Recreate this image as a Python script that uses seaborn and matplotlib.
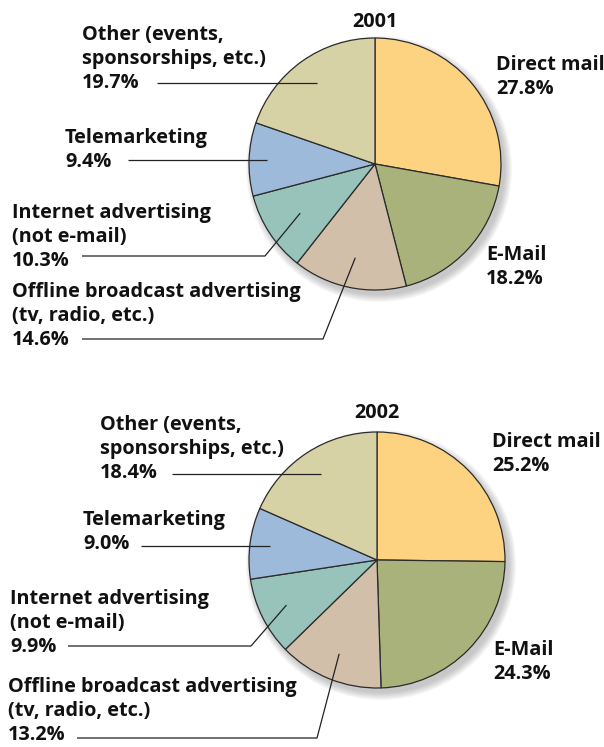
import numpy as np
import matplotlib.pyplot as plt
import seaborn as sns
from matplotlib.patches import Circle

# %%
categories = ['Direct mail', 'E-Mail', 'Offline broadcast advertising',
              'Internet advertising', 'Telemarketing', 'Other']
label_lines = {
    'Direct mail': ['Direct mail'],
    'E-Mail': ['E-Mail'],
    'Offline broadcast advertising': ['Offline broadcast advertising', '(tv, radio, etc.)'],
    'Internet advertising': ['Internet advertising', '(not e-mail)'],
    'Telemarketing': ['Telemarketing'],
    'Other': ['Other (events,', 'sponsorships, etc.)'],
}
years = ['2001', '2002']
share_2001 = [27.8, 18.2, 14.6, 10.3, 9.4, 19.7]
share_2002 = [25.2, 24.3, 13.2, 9.9, 9.0, 18.4]
colors = ['#FDD381', '#A9B27A', '#D1BFAA', '#97C3BA', '#9DBADB', '#D7D2A6']

# %%
sns.set_theme(style='white')
plt.rcParams['font.family'] = ['Open Sans', 'DejaVu Sans']
palette = sns.color_palette(colors)

W, H = 604, 747
fig = plt.figure(figsize=(W / 100, H / 100), dpi=100)
ax = fig.add_axes([0, 0, 1, 1])

# layout per pie (pixel coordinates, y down)
layouts = [
    dict(center=(375, 164), radius=126, title_y=22,
         text={'Direct mail': (496, 65), 'E-Mail': (486, 255),
               'Offline broadcast advertising': (12, 292),
               'Internet advertising': (12, 213),
               'Telemarketing': (65, 138), 'Other': (82, 35)},
         leader={'Offline broadcast advertising': (82, 339, 323, 0.76),
                 'Internet advertising': (82, 256, 265, 0.71),
                 'Telemarketing': (128, None, None, 0.86),
                 'Other': (157, None, None, 0.79)}),
    dict(center=(377, 560), radius=128, title_y=413,
         text={'Direct mail': (492, 442), 'E-Mail': (493, 650),
               'Offline broadcast advertising': (8, 687),
               'Internet advertising': (10, 599),
               'Telemarketing': (83, 520), 'Other': (100, 425)},
         leader={'Offline broadcast advertising': (77, 738, 317, 0.79),
                 'Internet advertising': (68, 646, 251, 0.79),
                 'Telemarketing': (141, None, None, 0.84),
                 'Other': (172, None, None, 0.80)}),
]

fs = 14.3
step = 24
for year, shares, lay in zip(years, [share_2001, share_2002], layouts):
    cx, cy = lay['center']
    r = lay['radius']
    # soft drop shadow
    for k in range(8):
        ax.add_patch(Circle((cx + 4, cy + 5), r + 7 - k, color='#6a6a6a',
                            alpha=0.05, lw=0, zorder=1))
    # y axis is inverted, so counterclockwise from -90 is clockwise from the top
    wedges, _ = ax.pie(shares, colors=palette, startangle=-90, counterclock=True,
                       center=(cx, cy), radius=r,
                       wedgeprops=dict(edgecolor='#2b2b2b', linewidth=0.9))
    for w in wedges:
        w.set_zorder(2)
    ax.text(cx, lay['title_y'], year, ha='center', va='center',
            fontsize=fs, fontweight='bold', color='#111111')

    for cat, val, w in zip(categories, shares, wedges):
        tx, ty = lay['text'][cat]
        lines = label_lines[cat] + [f'{val:.1f}%']
        for i, ln in enumerate(lines):
            ax.text(tx, ty + i * step, ln, ha='left', va='center',
                    fontsize=fs, fontweight='bold', color='#111111', zorder=5)
        if cat in lay['leader']:
            x0, ly, ex, frac = lay['leader'][cat]
            mid = np.deg2rad((w.theta1 + w.theta2) / 2)
            px, py = cx + frac * r * np.cos(mid), cy + frac * r * np.sin(mid)
            if ly is None:
                xs, ys = [x0, px], [py, py]
            else:
                xs, ys = [x0, ex, px], [ly, ly, py]
            ax.plot(xs, ys, color='#222222', lw=0.9, zorder=4,
                    solid_capstyle='butt')

ax.set_xlim(0, W)
ax.set_ylim(H, 0)
ax.set_aspect('equal')
ax.axis('off')
fig.savefig('out.png', dpi=100)
